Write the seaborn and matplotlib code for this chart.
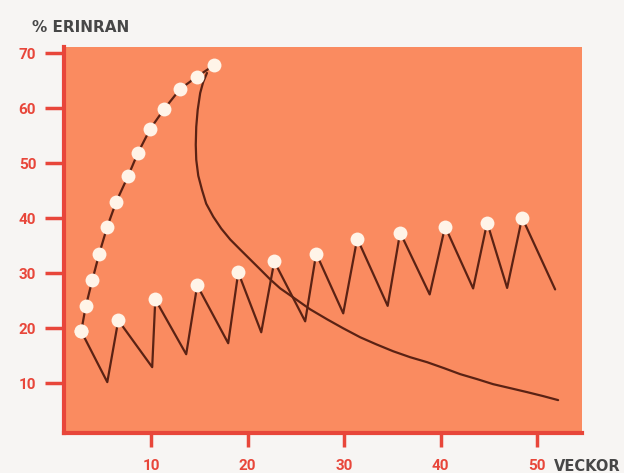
import numpy as np
import pandas as pd
import matplotlib
matplotlib.use('Agg')
import matplotlib.pyplot as plt
import seaborn as sns

# Learning curve (fast cramming): weeks vs % remembered
learn_x = [2.78, 3.25, 3.92, 4.65, 5.48, 6.41, 7.65, 8.63, 9.93, 11.38, 13.03, 14.79, 16.55]
learn_y = [19.45, 23.98, 28.69, 33.59, 38.48, 43.01, 47.73, 51.80, 56.25, 59.88, 63.50, 65.76, 67.84]

# Forgetting curve after cramming
forget_x = [15.80, 15.41, 15.10, 14.84, 14.69, 14.64, 14.69, 14.90, 15.28, 15.72, 16.45, 17.28,
            18.21, 19.24, 20.28, 21.32, 22.35, 23.39, 24.73, 26.49, 28.25, 29.91, 31.67, 33.32,
            35.08, 36.84, 38.60, 40.36, 42.02, 43.78, 45.43, 47.19, 48.95, 50.61, 52.16]
forget_y = [66.40, 64.76, 62.77, 59.69, 56.61, 53.35, 50.63, 47.73, 45.19, 42.65, 40.29, 38.12,
            36.13, 34.31, 32.50, 30.69, 28.88, 27.24, 25.61, 23.44, 21.62, 19.99, 18.36, 17.09,
            15.82, 14.74, 13.83, 12.74, 11.66, 10.75, 9.84, 9.12, 8.39, 7.67, 6.94]

# Spaced repetition sawtooth: peaks (with dots) and troughs
peak_x = [2.78, 6.62, 10.45, 14.79, 19.04, 22.77, 27.11, 31.36, 35.80, 40.46, 44.81, 48.43]
peak_y = [19.45, 21.45, 25.25, 27.79, 30.15, 32.14, 33.59, 36.31, 37.40, 38.48, 39.21, 40.11]
trough_x = [5.48, 10.13, 13.65, 18.00, 21.42, 25.97, 29.91, 34.51, 38.86, 43.36, 46.88, 51.85]
trough_y = [10.21, 12.93, 15.28, 17.28, 19.27, 21.26, 22.71, 24.07, 26.15, 27.24, 27.33, 27.06]

y_ticks = [10, 20, 30, 40, 50, 60, 70]
x_ticks = [10, 20, 30, 40, 50]

saw_x, saw_y = [], []
for px, py, tx, ty in zip(peak_x, peak_y, trough_x, trough_y):
    saw_x += [px, tx]
    saw_y += [py, ty]

learn = pd.DataFrame({'vecka': learn_x, 'procent': learn_y})
forget = pd.DataFrame({'vecka': forget_x, 'procent': forget_y})
saw = pd.DataFrame({'vecka': saw_x, 'procent': saw_y})
peaks = pd.DataFrame({'vecka': peak_x, 'procent': peak_y})

sns.set_style('white')
plt.rcParams['font.family'] = ['Roboto', 'DejaVu Sans']

red = '#E8463A'
line_col = '#5A2214'
dot_col = '#FFF4E8'

fig = plt.figure(figsize=(6.24, 4.73), dpi=100, facecolor='#F7F5F3')
ax = fig.add_axes([0.1026, 0.085, 0.8296, 0.8165])
ax.set_facecolor('#FA8B60')

for df in [saw, learn, forget]:
    sns.lineplot(data=df, x='vecka', y='procent', sort=False, estimator=None, ax=ax,
                 color=line_col, lw=1.6, zorder=2)
sns.scatterplot(data=learn, x='vecka', y='procent', ax=ax, color=dot_col, s=100, linewidth=0, zorder=3)
sns.scatterplot(data=peaks, x='vecka', y='procent', ax=ax, color=dot_col, s=100, linewidth=0, zorder=3)

ax.set_xlim(1.0, 54.6)
ax.set_ylim(1.0, 71.2)
ax.set_xticks(x_ticks)
ax.set_yticks(y_ticks)
ax.set_xlabel('')
ax.set_ylabel('')

for s in ['top', 'right']:
    ax.spines[s].set_visible(False)
for s in ['left', 'bottom']:
    ax.spines[s].set_color(red)
    ax.spines[s].set_linewidth(3)

ax.tick_params(axis='y', direction='out', length=14, width=2.5, color=red, pad=6,
               labelcolor=red, labelsize=11, left=True)
ax.tick_params(axis='x', direction='out', length=10, width=2.5, color=red, pad=9,
               labelcolor=red, labelsize=11, bottom=True)
for lab in ax.get_xticklabels() + ax.get_yticklabels():
    lab.set_fontweight('bold')

fig.text(32 / 624, 1 - 27 / 473, '% ERINRAN', color='#474747', fontsize=11,
         fontweight='bold', va='center', ha='left', family='DejaVu Sans')
fig.text(554 / 624, 1 - 466 / 473, 'VECKOR', color='#474747', fontsize=10.5,
         fontweight='bold', va='center', ha='left', family='DejaVu Sans')

fig.savefig('out.png', dpi=100, facecolor=fig.get_facecolor())
